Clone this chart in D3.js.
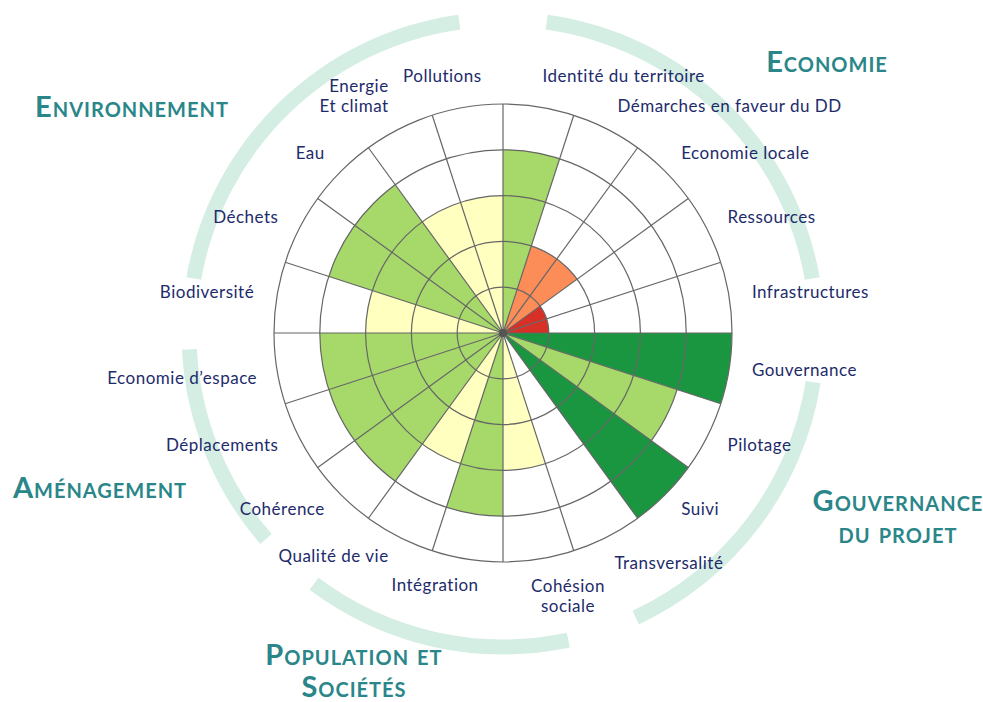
<!DOCTYPE html>
<html>
<head>
<meta charset="utf-8">
<script src="https://cdn.jsdelivr.net/npm/d3@7"></script>
<style>
  body { margin: 0; background: #fff; }
  svg { display: block; }
</style>
</head>
<body>
<svg id="chart" width="983" height="702"></svg>
<script>
// sectors, clockwise from 12 o'clock
const categories = [
    "Identité du territoire", "Démarches en faveur du DD", "Economie locale", "Ressources", "Infrastructures",
    "Gouvernance", "Pilotage", "Suivi", "Transversalité",
    "Cohésion\nsociale", "Intégration", "Qualité de vie",
    "Cohérence", "Déplacements", "Economie d’espace",
    "Biodiversité", "Déchets", "Eau", "Energie\nEt climat", "Pollutions"
];
const scores = [4, 2, 2, 1, 1, 5, 4, 5, 0, 3, 4, 3, 4, 4, 4, 3, 4, 4, 3, 3];
const levels = [1, 2, 3, 4, 5];
const levelColours = ["#d73027", "#fc8d59", "#ffffbf", "#a6d96a", "#1a9641"];

const themes = ["Economie", "Gouvernance\ndu projet", "Population et\nSociétés", "Aménagement", "Environnement"];
const themeSizes = [5, 4, 3, 3, 5];

// layout
const CX = 503, CY = 333, R = 229;
const LABEL_R = 252;
const ARC_R = 314, ARC_W = 15;
// start / end inset of each theme arc, in degrees
const arcInset = [[8, 10], [9, 7], [6, -1], [13, 3], [10, 8]];
const titlePos = [[827, 72], [898, 511], [354, 665], [100, 498], [132, 117]];
// hand nudges for a few labels
const labelNudge = {0: [0, -6], 8: [-3, 7], 10: [15, 5], 14: [3, 8], 19: [18, -6]};

const svg = d3.select("#chart");
const g = svg.append("g").attr("transform", `translate(${CX},${CY})`);

const n = categories.length;
const step = 2 * Math.PI / n;
const r = d3.scaleLinear().domain([0, 5]).range([0, R]);
const colour = d3.scaleOrdinal().domain(levels).range(levelColours);
const rad = (deg) => deg * Math.PI / 180;

// theme arcs
let start = 0;
const themeArcs = themeSizes.map((size, i) => {
    const a = {start: start * 18 + arcInset[i][0], end: (start + size) * 18 - arcInset[i][1]};
    start += size;
    return a;
});
g.append("g").selectAll("path")
    .data(themeArcs)
    .join("path")
    .attr("d", d => d3.arc()({
        innerRadius: ARC_R - ARC_W / 2, outerRadius: ARC_R + ARC_W / 2,
        startAngle: rad(d.start), endAngle: rad(d.end)
    }))
    .attr("fill", "#d5eee3");

// background disc
g.append("circle").attr("r", R).attr("fill", "#fff");

// sectors
const sector = d3.arc().innerRadius(0);
g.append("g").selectAll("path")
    .data(scores.map((v, i) => ({v, i})).filter(d => d.v > 0))
    .join("path")
    .attr("d", d => sector({outerRadius: r(d.v), startAngle: d.i * step, endAngle: (d.i + 1) * step}))
    .attr("fill", d => colour(d.v));

// grid
const grid = g.append("g").attr("fill", "none").attr("stroke", "#666").attr("stroke-width", 1.2);
grid.selectAll("circle")
    .data(levels)
    .join("circle")
    .attr("r", d => r(d));
grid.selectAll("line")
    .data(d3.range(n))
    .join("line")
    .attr("x2", i => R * Math.sin(i * step))
    .attr("y2", i => -R * Math.cos(i * step));
g.append("circle").attr("r", 4).attr("fill", "#555");

// category labels
const labels = g.append("g")
    .attr("font-family", "Lato, sans-serif")
    .attr("font-size", 17)
    .attr("letter-spacing", 0.5)
    .attr("fill", "#1d2b6b");
categories.forEach((name, i) => {
    const mid = (i + 0.5) * step;
    const nudge = labelNudge[i] || [0, 0];
    let x = LABEL_R * Math.sin(mid) + nudge[0];
    let y = -LABEL_R * Math.cos(mid) + nudge[1];
    const lines = name.split("\n");
    const bottom = Math.cos(mid) < 0;
    let anchor = mid < Math.PI ? "start" : "end";
    const t = labels.append("text")
        .attr("dominant-baseline", "middle");
    if (i === 9) {
        // centred block just right of the bottom spoke
        anchor = "middle";
        x = 65;
        y = 255;
    }
    t.attr("text-anchor", anchor);
    const y0 = (lines.length > 1 && !bottom) ? y - (lines.length - 1) * 20 : y;
    lines.forEach((line, k) => {
        t.append("tspan").attr("x", x).attr("y", y0 + k * 20).text(line);
    });
});

// theme titles
const titles = svg.append("g")
    .attr("font-family", "Lato, sans-serif")
    .attr("font-weight", 700)
    .attr("font-size", 29)
    .attr("letter-spacing", 1)
    .attr("fill", "#2a8689")
    .style("font-variant", "small-caps")
    .attr("text-anchor", "middle");
themes.forEach((name, i) => {
    const t = titles.append("text");
    name.split("\n").forEach((line, k) => {
        t.append("tspan").attr("x", titlePos[i][0]).attr("y", titlePos[i][1] + k * 32).text(line);
    });
});
</script>
</body>
</html>
